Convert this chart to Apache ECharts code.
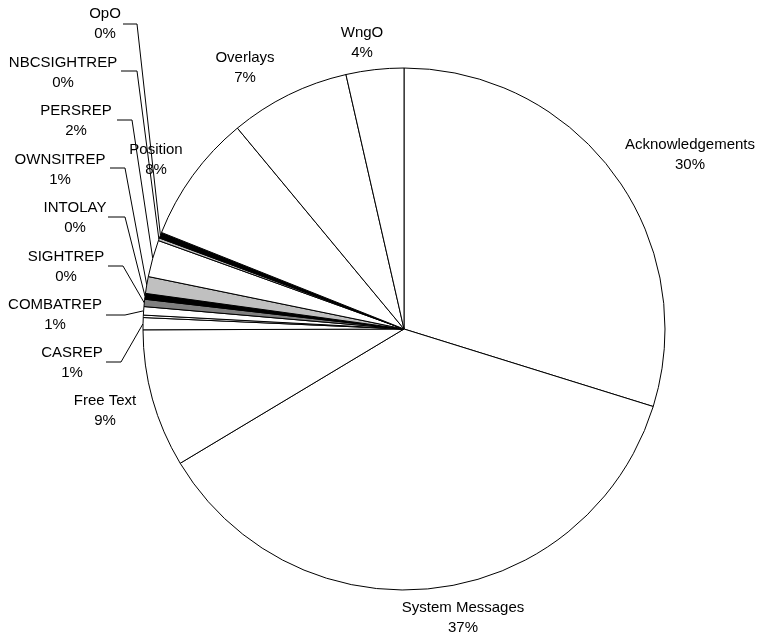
<!DOCTYPE html>
<html>
<head>
<meta charset="utf-8">
<script src="https://cdn.jsdelivr.net/npm/echarts@6/dist/echarts.min.js"></script>
<style>
  html, body { margin: 0; padding: 0; background: #ffffff; }
  #chart { width: 759px; height: 637px; }
</style>
</head>
<body>
<div id="chart"></div>
<script>
// Message categories, clockwise from 12 o'clock
const categories = [
  'Acknowledgements', 'System Messages', 'Free Text', 'CASREP', '',
  'COMBATREP', 'SIGHTREP', 'INTOLAY', 'OWNSITREP', 'PERSREP',
  'NBCSIGHTREP', 'OpO', 'Position', 'Overlays', 'WngO'
];
// Share of all messages (%)
const shares = [
  29.8, 36.6, 8.55, 0.75, 0.15,
  0.52, 0.45, 0.36, 1.04, 2.28,
  0.17, 0.36, 7.95, 7.45, 3.57
];

// Slice fills
const sliceFills = [
  '#ffffff', '#ffffff', '#ffffff', '#ffffff', '#ffffff',
  '#ffffff', '#808080', '#000000', '#c0c0c0', '#ffffff',
  '#c0c0c0', '#000000', '#ffffff', '#ffffff', '#ffffff'
];

// Label block centres
const labelCenter = {
  'Acknowledgements': [690, 155],
  'System Messages': [463, 618],
  'Free Text': [105, 411],
  'CASREP': [72, 363],
  'COMBATREP': [55, 315],
  'SIGHTREP': [66, 267],
  'INTOLAY': [75, 218],
  'OWNSITREP': [60, 170],
  'PERSREP': [76, 121],
  'NBCSIGHTREP': [63, 73],
  'OpO': [105, 24],
  'Position': [156, 160],
  'Overlays': [245, 68],
  'WngO': [362, 43]
};

// Leader lines: [bend x, end x, y]
const leaderBend = {
  'OpO': [137, 123, 24],
  'NBCSIGHTREP': [137, 121, 71],
  'PERSREP': [132, 117, 120],
  'OWNSITREP': [125, 110, 168],
  'INTOLAY': [125, 108, 217],
  'SIGHTREP': [123, 108, 266],
  'COMBATREP': [125, 106, 315],
  'CASREP': [121, 106, 362]
};

const chart = echarts.init(document.getElementById('chart'), null, { renderer: 'canvas' });

chart.setOption({
  animation: false,
  backgroundColor: '#ffffff',
  series: [{
    type: 'pie',
    center: [404, 329],
    radius: 261,
    startAngle: 90,
    clockwise: true,
    avoidLabelOverlap: false,
    percentPrecision: 0,
    emphasis: { disabled: true },
    itemStyle: { borderColor: '#000000', borderWidth: 1 },
    label: {
      show: true,
      position: 'outside',
      formatter: '{b}\n{d}%',
      color: '#000000',
      fontFamily: 'Liberation Sans, Arial, sans-serif',
      fontSize: 15,
      lineHeight: 20,
      align: 'center'
    },
    labelLine: {
      show: true,
      length: 10,
      length2: 10,
      smooth: false,
      lineStyle: { color: '#000000', width: 1 }
    },
    data: categories.map((name, i) => ({
      name: name,
      value: shares[i],
      itemStyle: { color: sliceFills[i] },
      label: { show: name !== '' },
      labelLine: { show: Object.prototype.hasOwnProperty.call(leaderBend, name) }
    })),
    labelLayout: function (p) {
      const name = categories[p.dataIndex];
      const c = labelCenter[name];
      if (!c) return {};
      const out = { x: c[0], y: c[1], align: 'center', verticalAlign: 'middle' };
      const bend = leaderBend[name];
      if (bend && p.labelLinePoints && p.labelLinePoints.length) {
        const edge = p.labelLinePoints[0];
        out.labelLinePoints = [[edge[0], edge[1]], [bend[0], bend[2]], [bend[1], bend[2]]];
      }
      return out;
    }
  }]
});
</script>
</body>
</html>
